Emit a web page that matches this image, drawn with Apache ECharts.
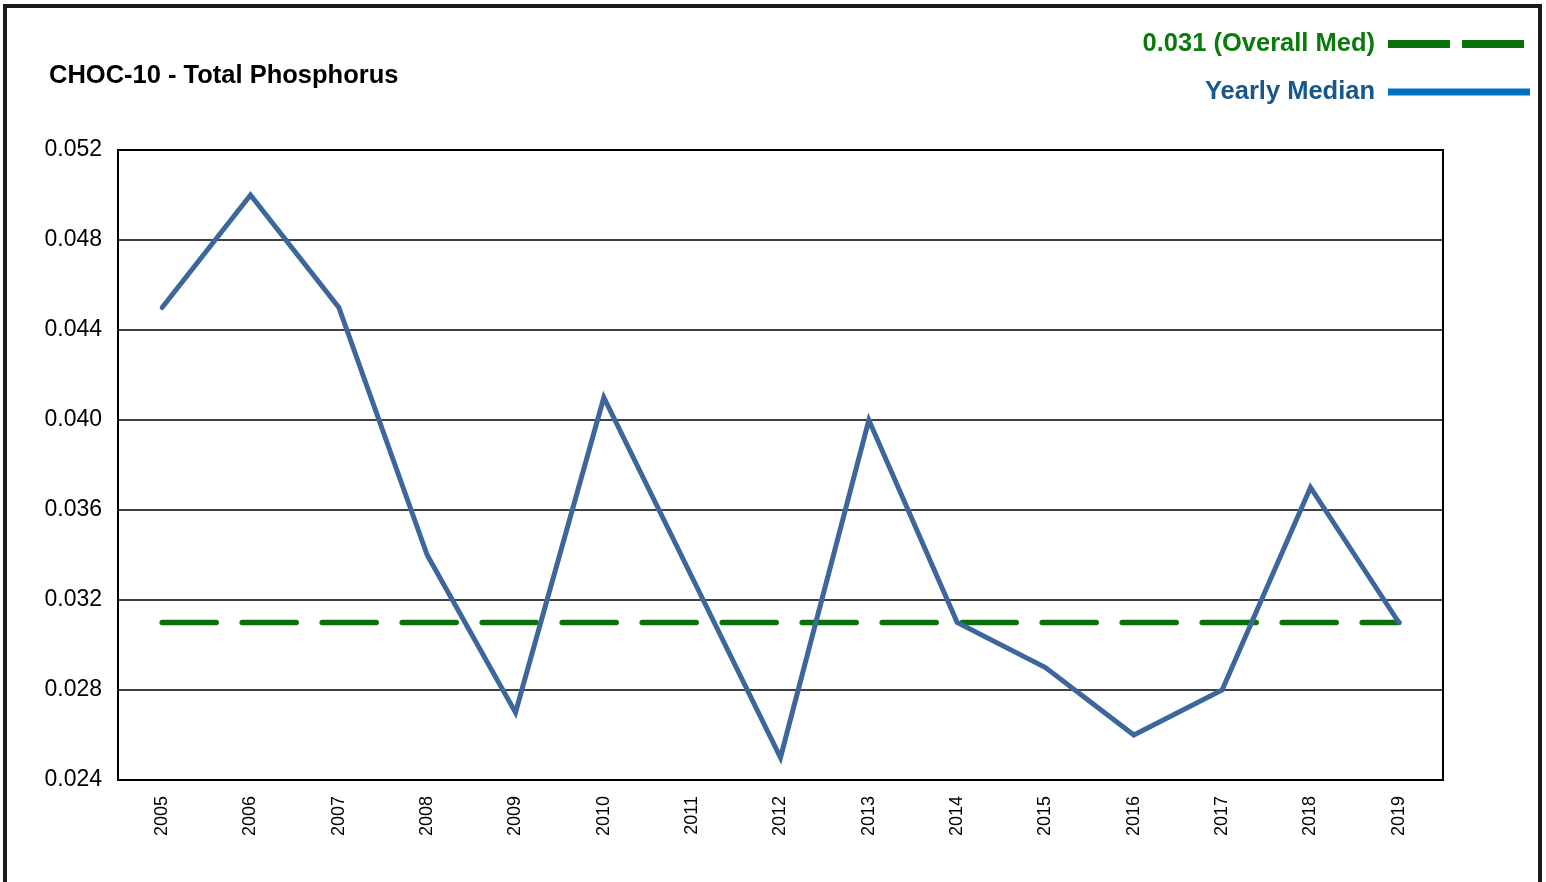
<!DOCTYPE html>
<html><head><meta charset="utf-8">
<script src="https://cdn.jsdelivr.net/npm/echarts@6/dist/echarts.min.js"></script>
<style>html,body{margin:0;padding:0;background:#fff}#c{width:1546px;height:882px}</style>
</head><body><div id="c"></div>
<script>
const years = ['2005','2006','2007','2008','2009','2010','2011','2012','2013','2014','2015','2016','2017','2018','2019'];
const yearlyMedian = [0.045,0.050,0.045,0.034,0.027,0.041,0.033,0.025,0.040,0.031,0.029,0.026,0.028,0.037,0.031];
const overallMedian = [0.031,0.031,0.031,0.031,0.031,0.031,0.031,0.031,0.031,0.031,0.031,0.031,0.031,0.031,0.031];
const yTicks = {min:0.024, max:0.052, interval:0.004};
const medName = '0.031 (Overall Med)';
const yearName = 'Yearly Median';

const chart = echarts.init(document.getElementById('c'), null, {renderer:'canvas'});
chart.setOption({
  animation:false,
  backgroundColor:'#fff',
  textStyle:{fontFamily:'Liberation Sans, Arial, sans-serif'},
  title:{text:'CHOC-10 - Total Phosphorus', left:44, top:58,
    textStyle:{fontSize:25.5, fontWeight:'bold', color:'#000', fontFamily:'Liberation Sans, Arial, sans-serif'}},
  legend:{
    orient:'vertical', right:7, top:26, align:'right', itemGap:22,
    itemWidth:142, itemHeight:8,
    textStyle:{fontSize:25.5, fontWeight:'bold', fontFamily:'Liberation Sans, Arial, sans-serif', padding:[0,8,0,0]},
    data:[
      {name:medName, textStyle:{color:'#0a7a0a'}, lineStyle:{color:'#0a700a', width:8, type:[62,12], cap:'butt'}, itemStyle:{color:'transparent', borderWidth:0, opacity:0}},
      {name:yearName, textStyle:{color:'#17578a'}, lineStyle:{color:'#0070c0', width:7, type:'solid', cap:'butt'}, itemStyle:{color:'transparent', borderWidth:0, opacity:0}}
    ]
  },
  grid:{left:118, top:150, right:103, bottom:102, show:true, borderColor:'#000', borderWidth:2},
  xAxis:{type:'category', data:years, boundaryGap:true,
    axisLine:{show:true, lineStyle:{color:'#000', width:2}},
    axisTick:{show:false},
    axisLabel:{rotate:90, fontSize:18, color:'#000', margin:16}},
  yAxis:{type:'value', min:yTicks.min, max:yTicks.max, interval:yTicks.interval,
    axisLine:{show:true, lineStyle:{color:'#000', width:2}},
    axisTick:{show:false},
    axisLabel:{fontSize:23, color:'#000', margin:16, formatter:v=>v.toFixed(3)},
    splitLine:{show:true, lineStyle:{color:'#000', width:1.5}}},
  series:[
    {name:medName, type:'line', data:overallMedian, symbol:'none', z:2,
      lineStyle:{color:'#0a700a', width:5.5, type:[54,26], cap:'round'}, itemStyle:{color:'#0a700a'}},
    {name:yearName, type:'line', data:yearlyMedian, symbol:'none', z:3,
      lineStyle:{color:'#3d679b', width:5, cap:'round', join:'miter'}, itemStyle:{color:'#3d679b'}}
  ],
  graphic:[{type:'rect', shape:{x:5, y:6, width:1535, height:900},
    style:{fill:'none', stroke:'#1a1a1a', lineWidth:4}, silent:true, z:100}]
});
</script></body></html>
